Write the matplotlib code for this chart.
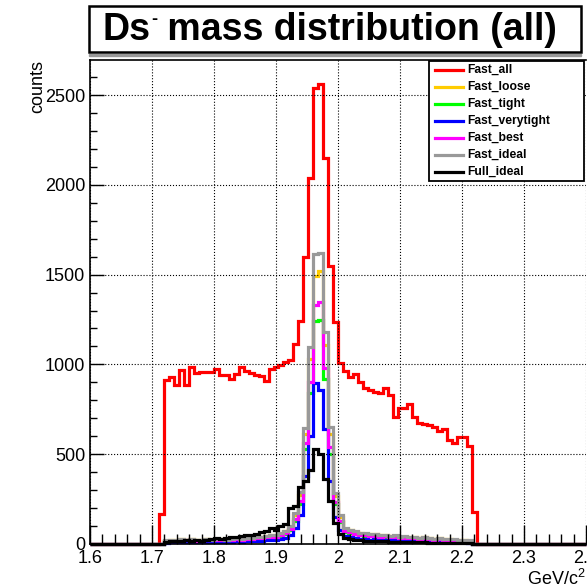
import numpy as np
import matplotlib
matplotlib.use("Agg")
import matplotlib.pyplot as plt
from matplotlib.patches import Rectangle
from matplotlib.lines import Line2D
from matplotlib.ticker import MultipleLocator

plt.rcParams['font.family'] = ['Liberation Sans', 'DejaVu Sans']
plt.rcParams['mathtext.fontset'] = 'custom'
plt.rcParams['mathtext.rm'] = 'Liberation Sans'

# 100 bins of 0.008 GeV between 1.6 and 2.4; lists below start at bin 14 (1.712)
edges = np.linspace(1.6, 2.4, 101)
first_bin = 14

fast_all = [167,
            913, 932, 885, 969, 885, 987, 950, 960, 960, 960,
            973, 941, 941, 917, 946, 983, 965, 953, 941, 935,
            909, 973, 983, 997, 1011, 1025, 1112, 1241, 1600, 2036,
            2537, 2559, 2147, 1550, 1238, 1008, 965, 928, 945, 904,
            867, 857, 845, 839, 867, 832, 705, 759, 759, 778,
            705, 672, 666, 661, 650, 631, 638, 579, 564, 594,
            598, 546, 180]
fast_loose = [0,
              18, 23, 21, 26, 24, 28, 23, 21, 27, 24,
              26, 29, 24, 27, 31, 29, 33, 32, 36, 38,
              43, 48, 46, 57, 71, 95, 160, 272, 610, 1030,
              1490, 1520, 1110, 612, 268, 150, 82, 76, 68, 60,
              58, 53, 56, 48, 50, 44, 46, 39, 41, 37,
              39, 34, 37, 32, 29, 31, 27, 29, 25, 23,
              21, 19, 0]
fast_tight = [0,
              14, 18, 16, 20, 18, 22, 18, 16, 21, 19,
              20, 23, 19, 21, 24, 23, 26, 25, 28, 30,
              34, 38, 36, 45, 56, 76, 128, 222, 530, 840,
              1240, 1250, 920, 500, 220, 120, 65, 60, 54, 48,
              46, 42, 44, 38, 40, 35, 36, 31, 32, 29,
              31, 27, 29, 25, 23, 24, 21, 23, 19, 18,
              16, 15, 0]
fast_verytight = [0,
                  8, 10, 9, 11, 10, 12, 10, 9, 12, 10,
                  11, 13, 10, 12, 14, 13, 15, 14, 16, 17,
                  20, 23, 22, 28, 36, 50, 90, 160, 380, 600,
                  896, 857, 640, 350, 150, 80, 45, 40, 35, 30,
                  28, 25, 26, 22, 23, 20, 21, 18, 19, 17,
                  18, 15, 16, 14, 13, 13, 12, 12, 10, 10,
                  9, 8, 0]
fast_best = [0,
             15, 19, 17, 22, 20, 24, 19, 17, 23, 20,
             22, 25, 20, 23, 26, 25, 28, 27, 31, 33,
             37, 41, 39, 49, 61, 82, 140, 240, 560, 900,
             1330, 1345, 980, 540, 235, 130, 70, 65, 58, 51,
             49, 45, 47, 41, 43, 37, 39, 33, 34, 31,
             33, 29, 31, 27, 25, 26, 23, 25, 21, 19,
             17, 16, 0]
fast_ideal = [0,
              20, 25, 22, 28, 25, 30, 24, 22, 28, 25,
              27, 30, 25, 28, 32, 30, 35, 33, 38, 40,
              45, 50, 48, 60, 75, 100, 170, 290, 646, 1095,
              1615, 1620, 1182, 650, 285, 161, 87, 80, 70, 62,
              60, 55, 58, 50, 52, 45, 48, 40, 42, 38,
              40, 35, 38, 33, 30, 32, 28, 30, 26, 24,
              22, 20, 0]
full_ideal = [0,
              12, 15, 18, 14, 20, 17, 22, 19, 24, 28,
              32, 30, 36, 40, 38, 45, 52, 50, 58, 66,
              70, 88, 80, 100, 110, 200, 210, 320, 350, 412,
              527, 500, 360, 240, 115, 55, 35, 28, 24, 20,
              18, 16, 17, 14, 15, 13, 12, 11, 12, 10,
              10, 9, 9, 8, 8, 7, 7, 6, 6, 5,
              5, 4, 0]

series = [("Fast_all", fast_all, "#ff0000"),
          ("Fast_loose", fast_loose, "#ffcc00"),
          ("Fast_tight", fast_tight, "#00ff00"),
          ("Fast_verytight", fast_verytight, "#0000ff"),
          ("Fast_best", fast_best, "#ff00ff"),
          ("Fast_ideal", fast_ideal, "#999999"),
          ("Full_ideal", full_ideal, "#000000")]


def full_counts(vals):
    counts = np.zeros(len(edges) - 1)
    counts[first_bin:first_bin + len(vals)] = vals
    return counts


W = H = 587
fig = plt.figure(figsize=(W / 100, H / 100), dpi=100)
ax = fig.add_axes([90 / W, 43 / H, 496 / W, 484 / H])

for name, vals, col in series:
    ax.stairs(full_counts(vals), edges, color=col, lw=2.3, label=name,
              baseline=0, clip_on=False)

ax.set_xlim(1.6, 2.4)
ax.set_ylim(0, 2695)
ax.xaxis.set_minor_locator(MultipleLocator(0.02))
ax.yaxis.set_major_locator(MultipleLocator(500))
ax.yaxis.set_minor_locator(MultipleLocator(100))
ax.set_xticks(np.arange(1.6, 2.41, 0.1))
ax.set_xticklabels(["1.6", "1.7", "1.8", "1.9", "2", "2.1", "2.2", "2.3", "2.4"])
ax.tick_params(which='both', direction='in', labelsize=13, width=1, top=False, right=False)
ax.tick_params(axis='y', which='major', length=10)
ax.tick_params(axis='y', which='minor', length=5)
ax.tick_params(axis='x', which='major', length=14, pad=4)
ax.tick_params(axis='x', which='minor', length=7)
ax.grid(True, which='major', color='black', linestyle=':', lw=0.8)
for sp in ax.spines.values():
    sp.set_linewidth(1.2)
ax.spines['right'].set_visible(False)

ax.set_ylabel("counts", fontsize=13, loc='top', labelpad=-1)
ax.set_xlabel("GeV/c$^{2}$", fontsize=13, loc='right', labelpad=2)

# legend: frame drawn by hand, entries placed in pixel rows
fig.patches.append(Rectangle((429 / W, 1 - 181 / H), 155 / W, 120 / H,
                             transform=fig.transFigure, facecolor='white',
                             edgecolor='black', lw=1.3, zorder=5))
for i, (name, vals, col) in enumerate(series):
    yy = 1 - (69.5 + 17.05 * i) / H
    fig.lines.append(Line2D([435 / W, 463 / W], [yy, yy], color=col, lw=2.3,
                            transform=fig.transFigure, zorder=6))
    fig.text(467 / W, yy, name, fontsize=8.7, fontweight='bold',
             va='center', ha='left', zorder=6)

# title box with its shadow
fig.patches.append(Rectangle((89 / W, 1 - 56 / H), 492 / W, 2 / H,
                             transform=fig.transFigure, color='#999999', zorder=1))
fig.patches.append(Rectangle((89 / W, 1 - 52 / H), 492 / W, 46 / H,
                             transform=fig.transFigure, facecolor='white',
                             edgecolor='black', lw=1.8, zorder=2))

r = fig.canvas.get_renderer()
ty = 1 - 30 / H
parts = [("Ds", 27, 0.0), ("-", 13, 11 / H), (" mass distribution (all)", 27, 0.0)]
widths = []
for txt, fs, dy in parts:
    t = fig.text(0, 0, txt, fontsize=fs, fontweight='bold')
    widths.append(t.get_window_extent(r).width / W)
    t.remove()
x0 = 330 / W - sum(widths) / 2
for (txt, fs, dy), w in zip(parts, widths):
    fig.text(x0, ty + dy, txt, fontsize=fs, fontweight='bold',
             ha='left', va='center', zorder=3)
    x0 += w

fig.savefig("out.png", dpi=100)
